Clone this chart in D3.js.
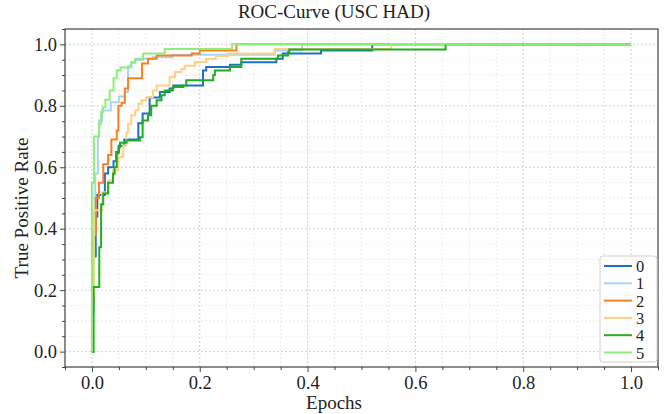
<!DOCTYPE html>
<html>
<head>
<meta charset="utf-8">
<script src="https://cdn.jsdelivr.net/npm/d3@7"></script>
<style>
  body { margin: 0; background: #fff; }
  text { font-family: "Liberation Serif", "Times New Roman", serif; fill: #222; }
</style>
</head>
<body>
<svg id="container" width="664" height="414"></svg>
<script>
// legend labels and line colours, one per fold
const names = ['0', '1', '2', '3', '4', '5'];
const colors = ['#1f70c6', '#a9d3f5', '#fb7f1e', '#ffcf86', '#1fae1f', '#8eee7c'];

// ROC corner points [fpr, tpr]
const roc0 = [[0, 0], [0.002, 0.13], [0.003, 0.31], [0.007, 0.44], [0.01, 0.51], [0.024, 0.58], [0.03, 0.6],
  [0.04, 0.62], [0.045, 0.65], [0.05, 0.67], [0.06, 0.69], [0.086, 0.743], [0.094, 0.775], [0.107, 0.827],
  [0.126, 0.845], [0.144, 0.856], [0.151, 0.866], [0.206, 0.9], [0.206, 0.915], [0.212, 0.926], [0.256, 0.934],
  [0.277, 0.942], [0.342, 0.953], [0.354, 0.97], [0.425, 0.98], [0.52, 1], [1, 1]];
const roc1 = [[0, 0], [0, 0.12], [0.003, 0.45], [0.006, 0.58], [0.011, 0.7], [0.013, 0.752], [0.019, 0.785],
  [0.035, 0.812], [0.05, 0.83], [0.061, 0.845], [0.067, 0.856], [0.067, 0.93], [0.073, 0.943], [0.08, 0.953],
  [0.113, 0.958], [0.15, 0.966], [0.339, 0.98], [0.39, 1], [1, 1]];
const roc2 = [[0, 0], [0, 0.17], [0.003, 0.38], [0.007, 0.5], [0.013, 0.55], [0.021, 0.61], [0.03, 0.64],
  [0.036, 0.69], [0.046, 0.72], [0.049, 0.8], [0.055, 0.81], [0.061, 0.856], [0.067, 0.89], [0.093, 0.938],
  [0.104, 0.953], [0.12, 0.964], [0.185, 0.97], [0.2, 0.98], [0.268, 1], [1, 1]];
const roc3 = [[0, 0], [0.002, 0.19], [0.004, 0.46], [0.019, 0.481], [0.019, 0.519], [0.03, 0.557], [0.039, 0.59],
  [0.049, 0.633], [0.058, 0.671], [0.064, 0.714], [0.067, 0.742], [0.073, 0.769], [0.08, 0.785], [0.086, 0.807],
  [0.092, 0.818], [0.101, 0.828], [0.113, 0.85], [0.12, 0.866], [0.144, 0.893], [0.154, 0.91], [0.166, 0.92],
  [0.172, 0.93], [0.191, 0.943], [0.212, 0.953], [0.23, 0.962], [0.252, 0.97], [0.339, 0.985], [0.555, 1], [1, 1]];
const roc4 = [[0, 0], [0.003, 0.21], [0.0136, 0.34], [0.017, 0.427], [0.017, 0.48], [0.021, 0.515], [0.03, 0.55],
  [0.039, 0.579], [0.042, 0.6], [0.046, 0.645], [0.049, 0.665], [0.052, 0.68], [0.064, 0.687], [0.089, 0.698],
  [0.094, 0.752], [0.104, 0.769], [0.11, 0.8], [0.12, 0.818], [0.129, 0.834], [0.135, 0.85], [0.15, 0.861],
  [0.169, 0.866], [0.175, 0.883], [0.225, 0.9], [0.228, 0.915], [0.256, 0.926], [0.277, 0.953], [0.345, 0.964],
  [0.364, 0.975], [0.366, 0.983], [0.656, 1], [1, 1]];
const roc5 = [[0, 0], [0, 0.55], [0.004, 0.7], [0.013, 0.74], [0.017, 0.78], [0.02, 0.795], [0.025, 0.82],
  [0.033, 0.85], [0.04, 0.89], [0.046, 0.915], [0.053, 0.925], [0.073, 0.94], [0.08, 0.95], [0.095, 0.97],
  [0.135, 0.985], [0.26, 1], [1, 1]];

const curves = [roc0, roc1, roc2, roc3, roc4, roc5];
const majorTicks = [0, 0.2, 0.4, 0.6, 0.8, 1.0];
const title = 'ROC-Curve (USC HAD)';
const xLabel = 'Epochs';
const yLabel = 'True Positive Rate';

const SERIF = '"Liberation Serif", "Times New Roman", serif';
const W = 664, H = 414;
const MARGIN = { TOP: 29, BOTTOM: 47, LEFT: 65, RIGHT: 6 };
const width = W - MARGIN.LEFT - MARGIN.RIGHT;
const height = H - MARGIN.TOP - MARGIN.BOTTOM;

const svg = d3.select('#container');
const g = svg.append('g').attr('transform', `translate(${MARGIN.LEFT},${MARGIN.TOP})`);

const x = d3.scaleLinear().domain([-0.05, 1.05]).range([0, width]);
const y = d3.scaleLinear().domain([-0.05, 1.05]).range([height, 0]);

const minorTicks = d3.range(-1, 22).map(i => i * 0.05).filter(v => Math.abs(v / 0.2 - Math.round(v / 0.2)) > 1e-6);

// grid, minor first
g.append('g')
  .attr('class', 'grid-minor')
  .attr('stroke', '#e4e4e4').attr('stroke-width', 0.8).attr('stroke-dasharray', '2,2')
  .call(sel => {
    sel.selectAll('.vx').data(minorTicks).enter().append('line')
      .attr('x1', d => x(d)).attr('x2', d => x(d)).attr('y1', 0).attr('y2', height);
    sel.selectAll('.hy').data(minorTicks).enter().append('line')
      .attr('y1', d => y(d)).attr('y2', d => y(d)).attr('x1', 0).attr('x2', width);
  });

g.append('g')
  .attr('class', 'grid-major')
  .attr('stroke', '#c4c4c4').attr('stroke-width', 0.8).attr('stroke-dasharray', '2,2')
  .call(sel => {
    sel.selectAll('.vx').data(majorTicks).enter().append('line')
      .attr('x1', d => x(d)).attr('x2', d => x(d)).attr('y1', 0).attr('y2', height);
    sel.selectAll('.hy').data(majorTicks).enter().append('line')
      .attr('y1', d => y(d)).attr('y2', d => y(d)).attr('x1', 0).attr('x2', width);
  });

// curves
const line = d3.line()
  .x(d => x(d[0]))
  .y(d => y(d[1]))
  .curve(d3.curveStepAfter);

g.append('g')
  .attr('class', 'curves')
  .selectAll('path')
  .data(curves)
  .enter()
  .append('path')
  .attr('fill', 'none')
  .attr('stroke', (d, i) => colors[i])
  .attr('stroke-width', 2)
  .attr('d', line);

// axes
const xAxis = g.append('g')
  .attr('transform', `translate(0,${height})`)
  .call(d3.axisBottom(x).tickValues(majorTicks).tickFormat(d3.format('.1f')).tickSize(5).tickPadding(4));
const xMinor = g.append('g')
  .attr('transform', `translate(0,${height})`)
  .call(d3.axisBottom(x).tickValues(minorTicks).tickFormat('').tickSize(3));
const yAxis = g.append('g')
  .call(d3.axisLeft(y).tickValues(majorTicks).tickFormat(d3.format('.1f')).tickSize(5).tickPadding(3));
const yMinor = g.append('g')
  .call(d3.axisLeft(y).tickValues(minorTicks).tickFormat('').tickSize(3));

[xAxis, xMinor, yAxis, yMinor].forEach(a => {
  a.attr('font-family', SERIF);
  a.select('.domain').remove();
  a.selectAll('line').attr('stroke', '#444');
  a.selectAll('text')
    .style('font-family', SERIF)
    .attr('font-size', 18.5)
    .attr('fill', '#222');
});

// frame
g.append('rect')
  .attr('width', width).attr('height', height)
  .attr('fill', 'none').attr('stroke', '#444').attr('stroke-width', 1.2);

// title and labels, centred on the figure
svg.append('text')
  .attr('x', 334).attr('y', 18)
  .attr('text-anchor', 'middle').attr('font-size', 19)
  .text(title);
svg.append('text')
  .attr('x', 334).attr('y', 409)
  .attr('text-anchor', 'middle').attr('font-size', 19)
  .text(xLabel);
svg.append('text')
  .attr('transform', 'translate(28,208) rotate(-90)')
  .attr('text-anchor', 'middle').attr('font-size', 19)
  .text(yLabel);

// legend
const legend = svg.append('g').attr('transform', 'translate(600,256)');
legend.append('rect')
  .attr('width', 57).attr('height', 106).attr('rx', 3)
  .attr('fill', 'rgba(255,255,255,0.85)').attr('stroke', '#d0d0d0');
const items = legend.selectAll('.item')
  .data(names)
  .enter()
  .append('g')
  .attr('class', 'item')
  .attr('transform', (d, i) => `translate(0,${10 + i * 17.3})`);
items.append('line')
  .attr('x1', 4).attr('x2', 32)
  .attr('stroke', (d, i) => colors[i]).attr('stroke-width', 2);
items.append('text')
  .attr('x', 36).attr('y', 6)
  .attr('font-size', 16.5)
  .text(d => d);
</script>
</body>
</html>
